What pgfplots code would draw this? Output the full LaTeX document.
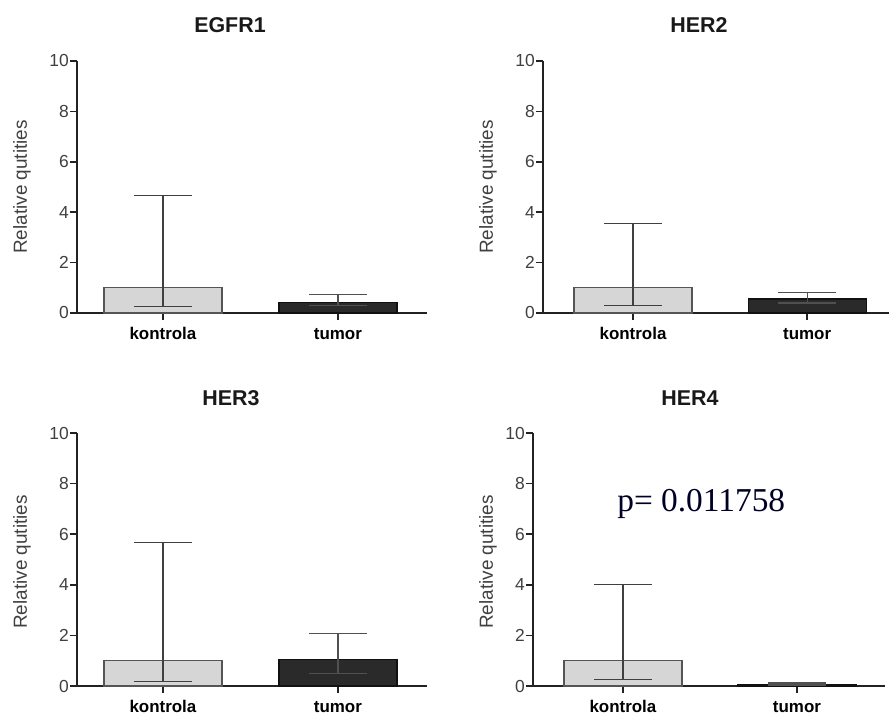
\documentclass[border=0pt]{standalone}
\usepackage{fontspec}
\setmainfont{Liberation Sans}
\newfontfamily\timesf{Liberation Serif}
\usepackage{pgfplots}
\pgfplotsset{compat=1.18}
\definecolor{ctrl}{HTML}{D6D6D6}
\definecolor{ctrlb}{HTML}{555555}
\definecolor{tum}{HTML}{2A2A2A}
\definecolor{tumb}{HTML}{111111}
\definecolor{axc}{HTML}{222222}
\definecolor{errc}{HTML}{404040}
\definecolor{errt}{HTML}{505050}
\definecolor{tickc}{HTML}{404040}
\pgfplotsset{
  gp/.style={
    scale only axis, height=252bp,
    axis lines*=left, ymin=0, ymax=10, ytick={0,2,...,10},
    xtick={0,1}, xticklabels={kontrola,tumor},
    tick align=outside, major tick length=7bp,
    axis line style={line width=1.8bp, color=axc},
    tick style={line width=1.5bp, color=axc},
    yticklabel style={font=\fontsize{17.5}{19}\selectfont, text=tickc, inner sep=1bp},
    xticklabel style={font=\bfseries\fontsize{17}{19}\selectfont, text=black,
      text height=12bp, text depth=3bp, yshift=-4bp},
    /pgf/number format/assume math mode=true,
    clip=false, ybar, bar width=118bp, bar shift=0pt,
  },
  errs/.style={error bars/.cd, y dir=both, y explicit, error mark=|,
    error bar style={line width=1.3bp, color=#1},
    error mark options={line width=1.3bp, color=#1, mark size=29bp}},
  ctrlbar/.style={fill=ctrl, draw=ctrlb, line width=1.3bp, errs=errc},
  tumbar/.style={fill=tum, draw=tumb, line width=1.3bp, errs=errt},
}
\begin{document}
\begin{tikzpicture}
\useasboundingbox (0,0) rectangle (889bp,719bp);
% EGFR1
\begin{axis}[gp, at={(77bp,406bp)}, anchor=south west, width=350bp, xmin=-0.491, xmax=1.509]
\addplot[ctrlbar] coordinates {(0,1.0) += (0,3.65) -= (0,0.75)};
\addplot[tumbar] coordinates {(1,0.42) += (0,0.32) -= (0,0.12)};
\end{axis}
% HER2
\begin{axis}[gp, at={(543bp,406bp)}, anchor=south west, width=346bp, xmin=-0.517, xmax=1.47]
\addplot[ctrlbar] coordinates {(0,1.0) += (0,2.54) -= (0,0.70)};
\addplot[tumbar] coordinates {(1,0.56) += (0,0.24) -= (0,0.16)};
\end{axis}
% HER3
\begin{axis}[gp, at={(77bp,33bp)}, anchor=south west, width=350bp, height=253bp, xmin=-0.491, xmax=1.509]
\addplot[ctrlbar] coordinates {(0,1.0) += (0,4.68) -= (0,0.83)};
\addplot[tumbar] coordinates {(1,1.05) += (0,1.03) -= (0,0.55)};
\end{axis}
% HER4
\begin{axis}[gp, at={(533bp,33bp)}, anchor=south west, width=352bp, height=253bp, xmin=-0.517, xmax=1.506]
\addplot[ctrlbar] coordinates {(0,1.0) += (0,3.02) -= (0,0.74)};
\addplot[tumbar] coordinates {(1,0.07) += (0,0.05) -= (0,0.03)};
\node[font=\timesf\fontsize{33.5}{37}\selectfont, text=black!85!blue] at (axis cs:0.45,7.2) {p= 0.011758};
\end{axis}
% titles
\begin{scope}[every node/.style={font=\bfseries\fontsize{21.5}{24}\selectfont, text=black!90}]
\node at (230bp,694bp) {EGFR1};
\node at (699bp,694bp) {HER2};
\node at (231bp,321bp) {HER3};
\node at (690bp,321bp) {HER4};
\end{scope}
\begin{scope}[every node/.style={rotate=90, font=\fontsize{19}{21}\selectfont, text=tickc}]
\node at (22bp,532bp) {Relative qutities};
\node at (488bp,532bp) {Relative qutities};
\node at (22bp,157bp) {Relative qutities};
\node at (488bp,157bp) {Relative qutities};
\end{scope}
\end{tikzpicture}
\end{document}
